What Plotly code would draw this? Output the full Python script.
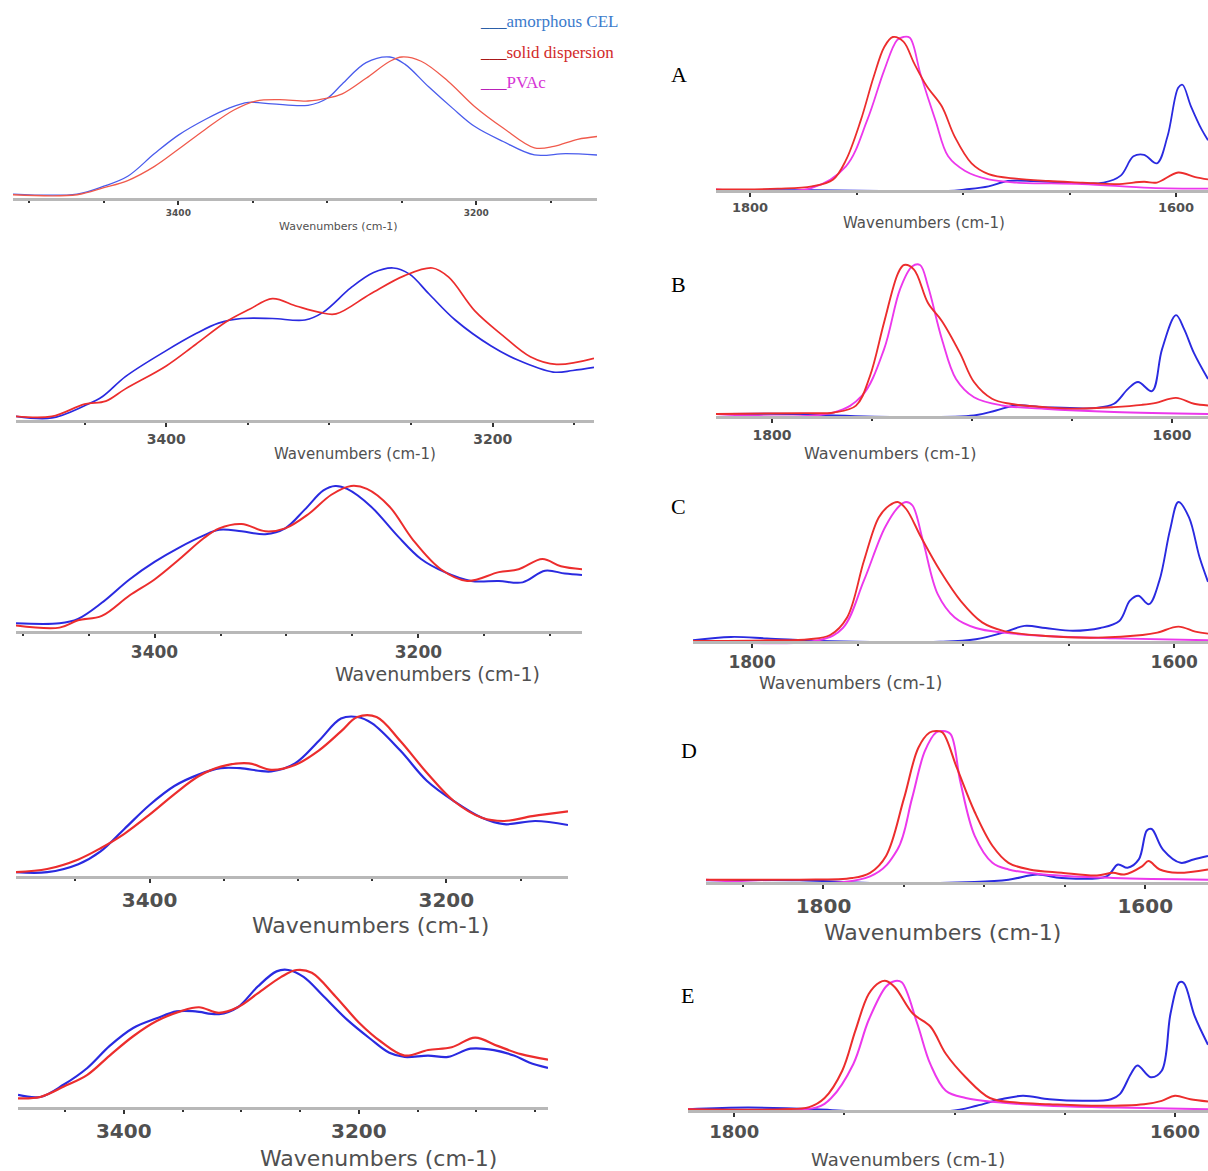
import plotly.graph_objects as go

W, H = 1208, 1171

# ---------------- data (wavenumber, normalised absorbance) ----------------
# Left column: O-H / N-H region
p1_blue_x = [3511,3468,3450,3434,3416,3400,3382,3366,3353,3337,3313,3300,3290,3274,3258,3248,3232,3216,3201,3182,3161,3140,3119]
p1_blue_y = [0.035,0.035,0.09,0.16,0.32,0.45,0.56,0.64,0.68,0.67,0.66,0.71,0.81,0.96,1.0,0.95,0.79,0.64,0.51,0.405,0.31,0.32,0.31]
p1_red_x = [3511,3468,3450,3434,3416,3400,3382,3363,3348,3332,3313,3300,3290,3274,3258,3250,3237,3219,3201,3182,3161,3148,3132,3119]
p1_red_y = [0.03,0.03,0.08,0.13,0.23,0.35,0.49,0.625,0.69,0.70,0.69,0.71,0.74,0.85,0.97,1.0,0.97,0.83,0.65,0.50,0.36,0.37,0.42,0.44]

p2_blue_x = [3492,3470,3450,3439,3425,3400,3382,3368,3354,3335,3315,3304,3287,3273,3261,3251,3239,3223,3201,3185,3163,3151,3138]
p2_blue_y = [0.03,0.02,0.10,0.16,0.29,0.46,0.57,0.64,0.67,0.67,0.66,0.71,0.87,0.97,1.0,0.96,0.83,0.66,0.49,0.40,0.32,0.33,0.35]
p2_red_x = [3492,3470,3450,3437,3425,3400,3382,3363,3349,3335,3320,3306,3296,3275,3254,3237,3227,3211,3194,3177,3161,3138]
p2_red_y = [0.03,0.03,0.11,0.13,0.21,0.36,0.50,0.65,0.73,0.80,0.75,0.71,0.70,0.83,0.95,1.0,0.94,0.72,0.56,0.42,0.37,0.41]

p3_blue_x = [3505,3472,3458,3440,3419,3400,3381,3363,3351,3334,3316,3301,3286,3272,3263,3254,3236,3216,3198,3180,3160,3139,3121,3104,3089,3076]
p3_blue_y = [0.06,0.06,0.09,0.20,0.36,0.48,0.58,0.66,0.70,0.69,0.67,0.71,0.84,0.97,1.0,0.98,0.86,0.66,0.50,0.41,0.35,0.35,0.34,0.42,0.40,0.39]
p3_red_x = [3505,3472,3458,3440,3419,3400,3381,3363,3351,3334,3316,3301,3283,3266,3251,3239,3222,3204,3183,3163,3139,3124,3106,3092,3076]
p3_red_y = [0.045,0.03,0.08,0.11,0.25,0.36,0.50,0.64,0.71,0.74,0.69,0.71,0.81,0.94,1.0,0.98,0.86,0.63,0.43,0.35,0.41,0.43,0.50,0.45,0.43]

p4_blue_x = [3490,3469,3448,3433,3417,3400,3383,3367,3352,3339,3318,3302,3286,3271,3260,3250,3231,3213,3195,3176,3161,3140,3118]
p4_blue_y = [0.03,0.03,0.08,0.16,0.30,0.45,0.57,0.64,0.68,0.68,0.66,0.71,0.85,0.99,1.0,0.96,0.79,0.60,0.475,0.37,0.33,0.35,0.325]
p4_red_x = [3490,3469,3448,3433,3417,3400,3383,3367,3352,3333,3318,3302,3286,3271,3260,3247,3231,3213,3195,3176,3161,3142,3118]
p4_red_y = [0.03,0.05,0.11,0.18,0.27,0.39,0.52,0.63,0.69,0.71,0.67,0.70,0.79,0.91,1.0,1.0,0.85,0.65,0.475,0.37,0.35,0.38,0.41]

p5_blue_x = [3490,3471,3451,3431,3412,3392,3372,3355,3339,3319,3303,3286,3270,3260,3247,3230,3210,3190,3174,3161,3141,3124,3105,3085,3068,3055,3039]
p5_blue_y = [0.095,0.08,0.17,0.29,0.45,0.58,0.65,0.70,0.70,0.68,0.73,0.88,0.99,1.0,0.95,0.81,0.64,0.50,0.40,0.37,0.38,0.37,0.43,0.42,0.38,0.33,0.29]
p5_red_x = [3490,3471,3451,3431,3412,3392,3372,3352,3336,3319,3303,3286,3266,3253,3240,3220,3200,3181,3161,3141,3121,3101,3082,3062,3039]
p5_red_y = [0.07,0.08,0.155,0.24,0.38,0.52,0.63,0.70,0.73,0.69,0.73,0.83,0.95,1.0,0.98,0.81,0.62,0.48,0.38,0.42,0.44,0.51,0.45,0.39,0.35]

# Right column: carbonyl region (A-E)
pA_blue_x = [1816,1771,1739,1707,1699,1688,1679,1667,1652,1634,1626,1620,1615,1609,1604,1599,1597,1593,1588,1585]
pA_blue_y = [0.005,0.005,0,0,0.01,0.03,0.065,0.065,0.055,0.055,0.10,0.225,0.235,0.18,0.355,0.67,0.69,0.55,0.40,0.33]
pA_red_x = [1816,1787,1771,1761,1755,1748,1742,1737,1733,1728,1723,1717,1710,1704,1696,1688,1675,1660,1644,1628,1615,1609,1599,1591,1585]
pA_red_y = [0.01,0.015,0.03,0.075,0.20,0.46,0.74,0.935,1.0,0.97,0.83,0.68,0.55,0.355,0.18,0.11,0.08,0.065,0.055,0.045,0.06,0.055,0.12,0.09,0.075]
pA_mag_x = [1816,1771,1755,1745,1737,1731,1728,1725,1720,1713,1707,1699,1688,1675,1644,1612,1585]
pA_mag_y = [0.01,0.02,0.16,0.46,0.785,0.98,1.0,0.995,0.76,0.46,0.225,0.13,0.075,0.055,0.045,0.02,0.015]

pB_blue_x = [1828,1786,1769,1734,1699,1688,1678,1664,1638,1629,1622,1617,1610,1605,1598,1594,1589,1582]
pB_blue_y = [0.02,0.02,0.01,0,0.01,0.043,0.076,0.065,0.06,0.087,0.185,0.23,0.17,0.445,0.67,0.58,0.42,0.25]
pB_red_x = [1828,1786,1769,1758,1751,1744,1737,1734,1729,1722,1715,1706,1699,1690,1681,1664,1647,1629,1615,1608,1598,1589,1582]
pB_red_y = [0.02,0.025,0.03,0.075,0.27,0.62,0.945,1.0,0.97,0.75,0.63,0.42,0.23,0.12,0.087,0.065,0.055,0.065,0.08,0.093,0.126,0.087,0.076]
pB_mag_x = [1828,1769,1755,1744,1736,1730,1726,1722,1715,1708,1699,1685,1664,1629,1582]
pB_mag_y = [0.02,0.03,0.14,0.445,0.84,0.99,1.0,0.86,0.51,0.25,0.13,0.076,0.054,0.033,0.02]

pC_blue_x = [1828,1810,1793,1768,1744,1711,1694,1681,1671,1661,1648,1635,1626,1621,1617,1612,1607,1602,1598,1593,1588,1584]
pC_blue_y = [0.012,0.036,0.026,0.007,0,0.002,0.02,0.067,0.115,0.10,0.08,0.10,0.15,0.295,0.33,0.27,0.44,0.80,1.0,0.89,0.605,0.43]
pC_red_x = [1828,1793,1773,1763,1755,1747,1740,1735,1731,1727,1720,1711,1701,1691,1681,1661,1636,1615,1608,1598,1590,1584]
pC_red_y = [0.007,0.012,0.02,0.05,0.175,0.58,0.89,0.975,1.0,0.95,0.75,0.51,0.29,0.14,0.08,0.043,0.031,0.05,0.067,0.11,0.074,0.06]
pC_mag_x = [1828,1768,1757,1747,1737,1730,1727,1724,1719,1712,1704,1694,1681,1661,1628,1584]
pC_mag_y = [0.007,0.014,0.10,0.44,0.82,0.975,1.0,0.975,0.72,0.34,0.175,0.10,0.067,0.043,0.026,0.012]

pD_blue_x = [1873,1815,1771,1706,1685,1667,1652,1624,1617,1611,1604,1599,1596,1589,1578,1570,1561]
pD_blue_y = [0.018,0.018,0,0.007,0.022,0.056,0.033,0.044,0.122,0.10,0.155,0.345,0.355,0.22,0.133,0.155,0.178]
pD_red_x = [1873,1815,1782,1771,1761,1750,1741,1734,1730,1726,1717,1706,1695,1685,1672,1652,1630,1620,1613,1602,1598,1591,1580,1561]
pD_red_y = [0.022,0.022,0.033,0.067,0.18,0.555,0.89,0.99,1.0,0.99,0.755,0.467,0.245,0.133,0.089,0.067,0.049,0.067,0.056,0.11,0.144,0.089,0.067,0.089]
pD_mag_x = [1873,1771,1754,1745,1737,1730,1726,1721,1715,1706,1695,1685,1663,1620,1561]
pD_mag_y = [0.022,0.044,0.22,0.555,0.867,0.99,1.0,0.98,0.67,0.31,0.133,0.089,0.056,0.033,0.022]

pE_blue_x = [1821,1794,1763,1748,1733,1702,1690,1679,1669,1657,1641,1629,1625,1620,1617,1611,1606,1602,1598,1596,1591,1585]
pE_blue_y = [0.013,0.026,0.013,0,0,0,0.04,0.09,0.117,0.09,0.078,0.09,0.13,0.285,0.35,0.26,0.31,0.75,0.99,0.985,0.727,0.51]
pE_red_x = [1821,1778,1766,1759,1751,1745,1739,1734,1731,1727,1719,1711,1704,1695,1684,1672,1657,1634,1614,1606,1600,1593,1585]
pE_red_y = [0.013,0.013,0.03,0.10,0.31,0.62,0.90,0.99,1.0,0.95,0.75,0.65,0.44,0.26,0.10,0.065,0.052,0.04,0.052,0.078,0.117,0.09,0.073]
pE_mag_x = [1821,1763,1756,1746,1739,1731,1727,1724,1717,1711,1704,1695,1679,1657,1626,1585]
pE_mag_y = [0.013,0.026,0.10,0.36,0.70,0.96,1.0,0.99,0.675,0.36,0.156,0.10,0.065,0.04,0.026,0.013]

left_ticks = [3400, 3200]
right_ticks = [1800, 1600]
axis_title = "Wavenumbers (cm-1)"
series_names = ["amorphous CEL", "solid dispersion", "PVAc"]
panel_letters = ["A", "B", "C", "D", "E"]

# ---------------- layout of the panels (pixel geometry) ----------------
panels = [
    dict(x0=13, x1=597, base=199, peak=57, wn0=3511, wn1=3119, tf=9, hf=11, hx=338, hy=227, lw=1.3, light=True,
         series=[(p1_blue_x, p1_blue_y, "blue"), (p1_red_x, p1_red_y, "red")], ticks=left_ticks),
    dict(x0=16, x1=594, base=421, peak=268, wn0=3492, wn1=3138, tf=14, hf=15, hx=355, hy=454, lw=1.7,
         series=[(p2_blue_x, p2_blue_y, "blue"), (p2_red_x, p2_red_y, "red")], ticks=left_ticks),
    dict(x0=16, x1=582, base=632, peak=486, wn0=3505, wn1=3076, tf=17, hf=19, hx=437, hy=674, lw=2.0,
         series=[(p3_blue_x, p3_blue_y, "blue"), (p3_red_x, p3_red_y, "red")], ticks=left_ticks),
    dict(x0=16, x1=568, base=877, peak=717, wn0=3490, wn1=3118, tf=20, hf=22, hx=370, hy=925, lw=2.2,
         series=[(p4_blue_x, p4_blue_y, "blue"), (p4_red_x, p4_red_y, "red")], ticks=left_ticks),
    dict(x0=18, x1=548, base=1108, peak=970, wn0=3490, wn1=3039, tf=20, hf=22, hx=378, hy=1158, lw=2.2,
         series=[(p5_blue_x, p5_blue_y, "blue"), (p5_red_x, p5_red_y, "red")], ticks=left_ticks),
    dict(x0=716, x1=1208, base=191, peak=37, wn0=1816, wn1=1585, tf=13, hf=15, hx=924, hy=223, lw=1.8,
         series=[(pA_blue_x, pA_blue_y, "blue"), (pA_mag_x, pA_mag_y, "mag"), (pA_red_x, pA_red_y, "red")], ticks=right_ticks),
    dict(x0=716, x1=1208, base=417, peak=265, wn0=1828, wn1=1582, tf=14, hf=16, hx=890, hy=453, lw=1.9,
         series=[(pB_blue_x, pB_blue_y, "blue"), (pB_mag_x, pB_mag_y, "mag"), (pB_red_x, pB_red_y, "red")], ticks=right_ticks),
    dict(x0=693, x1=1208, base=642, peak=502, wn0=1828, wn1=1584, tf=17, hf=17, hx=850, hy=683, lw=1.9,
         series=[(pC_blue_x, pC_blue_y, "blue"), (pC_mag_x, pC_mag_y, "mag"), (pC_red_x, pC_red_y, "red")], ticks=right_ticks),
    dict(x0=706, x1=1208, base=883, peak=731, wn0=1873, wn1=1561, tf=20, hf=22, hx=942, hy=932, lw=2.0,
         series=[(pD_blue_x, pD_blue_y, "blue"), (pD_mag_x, pD_mag_y, "mag"), (pD_red_x, pD_red_y, "red")], ticks=right_ticks),
    dict(x0=688, x1=1208, base=1111, peak=981, wn0=1821, wn1=1585, tf=18, hf=18, hx=908, hy=1159, lw=2.0,
         series=[(pE_blue_x, pE_blue_y, "blue"), (pE_mag_x, pE_mag_y, "mag"), (pE_red_x, pE_red_y, "red")], ticks=right_ticks),
]
letter_pos = [(679, 74), (678, 284), (678, 506), (689, 750), (687, 995)]

colors = {"blue": "#2a2ae0", "red": "#ec2d2d", "mag": "#ec38ec"}
light_colors = {"blue": "#4a5cec", "red": "#f05a4c", "mag": "#ec38ec"}
TXT = "#505050"
YMIN, YMAX = -0.02, 1.03


def py(pix):
    return 1 - pix / H


fig = go.Figure()
annotations = []
for i, p in enumerate(panels):
    n = i + 1
    xa = "x" if n == 1 else f"x{n}"
    ya = "y" if n == 1 else f"y{n}"
    pal = light_colors if p.get("light") else colors
    for xs, ys, c in p["series"]:
        fig.add_trace(go.Scatter(x=xs, y=ys, mode="lines", xaxis=xa, yaxis=ya,
                                 line=dict(color=pal[c], width=p["lw"], shape="spline", smoothing=1.0),
                                 showlegend=False, hoverinfo="skip"))
    h = p["base"] - p["peak"]
    ybot = p["base"] - YMIN * h
    ytop = p["base"] - YMAX * h
    lo, hi = min(p["wn0"], p["wn1"]), max(p["wn0"], p["wn1"])
    minor_vals = [v for v in range(1500, 3600, 50) if lo <= v <= hi and v not in p["ticks"]]
    xkey = "xaxis" if n == 1 else f"xaxis{n}"
    ykey = "yaxis" if n == 1 else f"yaxis{n}"
    fig.layout[xkey] = dict(
        domain=[p["x0"] / W, p["x1"] / W], range=[p["wn0"], p["wn1"]],
        anchor="free", position=py(p["base"]),
        showline=True, linecolor="#b8b8b8", linewidth=2.5, showgrid=False, zeroline=False,
        tickmode="array", tickvals=p["ticks"], ticks="outside", ticklen=4, tickwidth=2, tickcolor="#333333",
        tickfont=dict(family="DejaVu Sans", size=p["tf"], color=TXT, weight="bold"),
        minor=dict(tickmode="array", tickvals=minor_vals, ticks="outside", ticklen=2, tickwidth=2, tickcolor="#333333"),
        fixedrange=True,
    )
    fig.layout[ykey] = dict(domain=[py(ybot), py(ytop)], range=[YMIN, YMAX], visible=False, fixedrange=True)
    annotations.append(dict(text=axis_title, x=p["hx"] / W, y=py(p["hy"]), xref="paper", yref="paper",
                            xanchor="center", yanchor="middle", showarrow=False,
                            font=dict(family="DejaVu Sans", size=p["hf"], color=TXT)))

for letter, (lx, ly) in zip(panel_letters, letter_pos):
    annotations.append(dict(text=letter, x=lx / W, y=py(ly), xref="paper", yref="paper",
                            xanchor="center", yanchor="middle", showarrow=False,
                            font=dict(family="Liberation Serif", size=22, color="black")))

legend_cols = [("#2a5fa8", "#3b7bcc"), ("#a81818", "#d22a2a"), ("#b820b8", "#d634d6")]
for k, (name, (lc, tc)) in enumerate(zip(series_names, legend_cols)):
    annotations.append(dict(
        text=f"<span style='color:{lc}'>___</span><span style='color:{tc}'>{name}</span>",
        x=478 / W, y=py(22 + 30 * k), xref="paper", yref="paper", xanchor="left", yanchor="middle",
        showarrow=False, font=dict(family="Liberation Serif", size=17)))

fig.update_layout(width=W, height=H, margin=dict(l=0, r=0, t=0, b=0),
                  paper_bgcolor="white", plot_bgcolor="rgba(0,0,0,0)",
                  annotations=annotations, showlegend=False)

fig.write_html("out.html", config={"displayModeBar": False},
               post_script="document.body.style.margin='0';")
